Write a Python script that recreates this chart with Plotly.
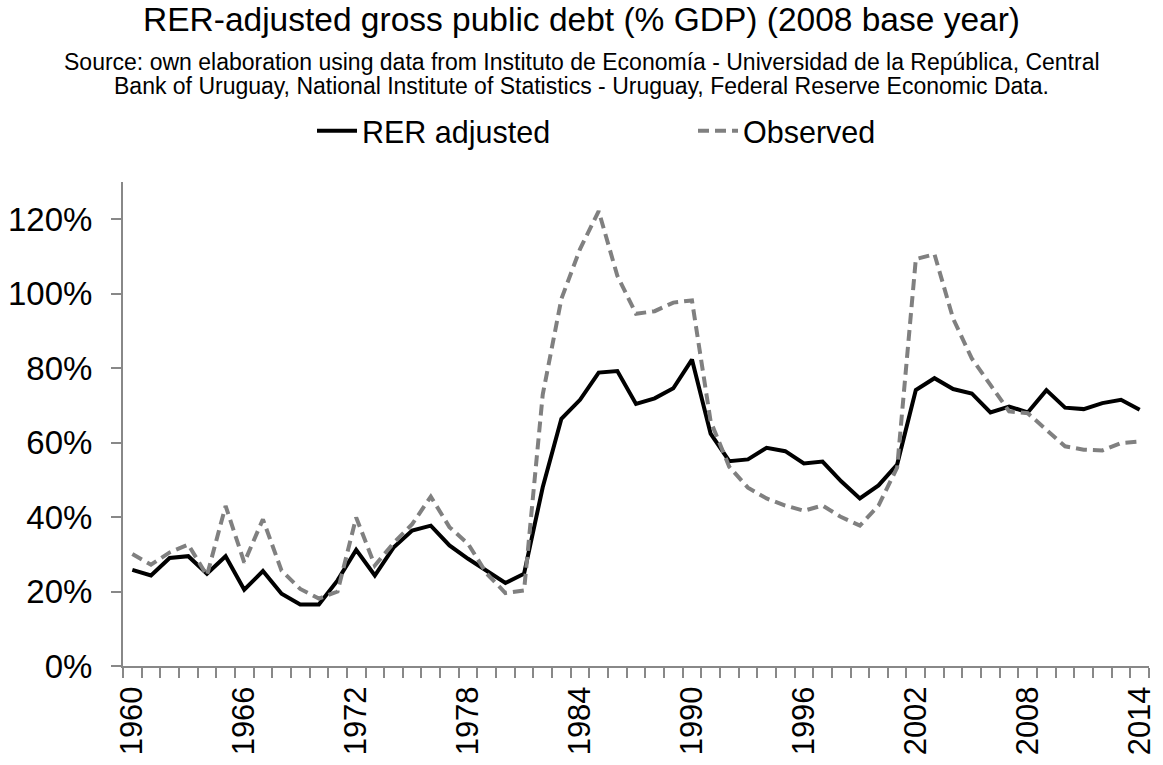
import plotly.graph_objects as go

# Gross public debt as a share of GDP, Uruguay 1960-2014
years = list(range(1960, 2015))

rer_adjusted = [
    0.258, 0.243, 0.290, 0.295, 0.248, 0.295, 0.205, 0.255, 0.194, 0.165,
    0.165, 0.230, 0.312, 0.243, 0.318, 0.364, 0.377, 0.324, 0.288, 0.257,
    0.223, 0.248, 0.480, 0.664, 0.715, 0.788, 0.792, 0.704, 0.719, 0.746,
    0.823, 0.624, 0.550, 0.555, 0.586, 0.577, 0.544, 0.549, 0.496, 0.450,
    0.485, 0.541, 0.741, 0.773, 0.744, 0.732, 0.681, 0.697, 0.681, 0.741,
    0.694, 0.690, 0.706, 0.715, 0.688,
]

observed = [
    0.301, 0.272, 0.305, 0.326, 0.243, 0.430, 0.278, 0.394, 0.256, 0.207,
    0.181, 0.200, 0.399, 0.270, 0.330, 0.381, 0.455, 0.373, 0.328, 0.248,
    0.196, 0.203, 0.729, 0.986, 1.120, 1.222, 1.048, 0.946, 0.953, 0.976,
    0.982, 0.657, 0.535, 0.479, 0.450, 0.431, 0.417, 0.431, 0.400, 0.377,
    0.431, 0.533, 1.093, 1.106, 0.933, 0.826, 0.755, 0.684, 0.679, 0.635,
    0.590, 0.581, 0.579, 0.599, 0.603,
]

label_years = list(range(1960, 2015, 6))

title_text = "RER-adjusted gross public debt (% GDP) (2008 base year)"
subtitle_lines = [
    "Source: own elaboration using data from Instituto de Economía - Universidad de la República, Central",
    "Bank of Uruguay, National Institute of Statistics - Uruguay, Federal Reserve Economic Data.",
]

FONT = "Liberation Sans, Arial, sans-serif"
AXIS_GREY = "#888888"

# plot area geometry (pixels) used to place the heading in paper units
W, H = 1163, 765
L, R, T, B = 123, 14, 182, 99
plot_w = W - L - R
plot_h = H - T - B


def paper_x(px):
    return (px - L) / plot_w


def paper_y(py):
    return (H - B - py) / plot_h


fig = go.Figure()
fig.add_trace(go.Scatter(
    x=years, y=rer_adjusted, name="RER adjusted", mode="lines",
    line=dict(color="black", width=4),
))
fig.add_trace(go.Scatter(
    x=years, y=observed, name="Observed", mode="lines",
    line=dict(color="#808080", width=4, dash="11px,6px"),
))

heading = [
    dict(text=title_text, size=33.5, y=20),
    dict(text=subtitle_lines[0], size=23, y=62),
    dict(text=subtitle_lines[1], size=23, y=86),
]

fig.update_layout(
    width=W, height=H,
    margin=dict(l=L, r=R, t=T, b=B, autoexpand=False),
    paper_bgcolor="white", plot_bgcolor="white",
    font=dict(family=FONT, color="black"),
    showlegend=True,
    legend=dict(
        orientation="h", x=paper_x(312), xanchor="left",
        y=paper_y(131), yanchor="middle",
        font=dict(size=30.5, family=FONT, color="black"),
        entrywidth=326, entrywidthmode="pixels",
        itemwidth=40, tracegroupgap=0,
    ),
    annotations=[
        dict(text=h["text"], x=paper_x(W / 2), xref="paper",
             y=paper_y(h["y"]), yref="paper", xanchor="center",
             yanchor="middle", showarrow=False,
             font=dict(size=h["size"], family=FONT, color="black"))
        for h in heading
    ],
)

fig.update_xaxes(
    range=[1959.5, 2014.5], automargin=False,
    tickmode="array", tickvals=label_years, ticktext=[str(y) for y in label_years],
    tickangle=-90, ticks="", ticklabelstandoff=6,
    tickfont=dict(size=31, family=FONT, color="black"),
    showgrid=False, zeroline=False,
    showline=True, linecolor=AXIS_GREY, linewidth=2,
    minor=dict(tick0=1959.5, dtick=1, ticks="outside", ticklen=10,
               tickcolor=AXIS_GREY, tickwidth=1.5, showgrid=False),
)
fig.update_yaxes(
    range=[0, 1.3], tick0=0, dtick=0.2, tickformat=".0%", automargin=False,
    ticks="outside", ticklen=10, tickcolor=AXIS_GREY, tickwidth=1.5,
    ticklabelstandoff=12,
    tickfont=dict(size=33, family=FONT, color="black"),
    showgrid=False, zeroline=False,
    showline=True, linecolor=AXIS_GREY, linewidth=2,
)

fig.write_html("out.html")
